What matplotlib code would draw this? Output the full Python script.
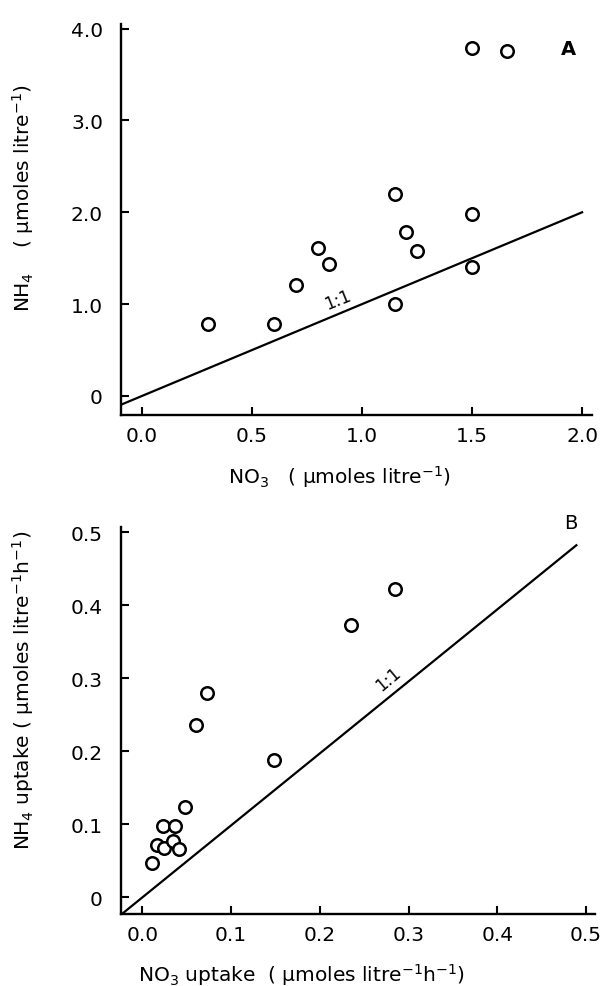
import matplotlib
matplotlib.use("Agg")
import matplotlib.pyplot as plt

# Panel A data: NO3 vs NH4 concentration (umoles litre^-1)
a_no3 = [0.30, 0.60, 0.70, 0.80, 0.85, 1.15, 1.15, 1.20, 1.25, 1.50, 1.50, 1.50, 1.66]
a_nh4 = [0.78, 0.78, 1.21, 1.61, 1.44, 1.00, 2.20, 1.79, 1.58, 1.98, 1.40, 3.79, 3.76]
a_xticks = [0.0, 0.5, 1.0, 1.5, 2.0]
a_xticklabels = ["0.0", "0.5", "1.0", "1.5", "2.0"]
a_yticks = [0, 1, 2, 3, 4]
a_yticklabels = ["0", "1.0", "2.0", "3.0", "4.0"]

# Panel B data: NO3 uptake vs NH4 uptake (umoles litre^-1 h^-1)
b_no3 = [0.011, 0.017, 0.023, 0.025, 0.035, 0.037, 0.041, 0.048, 0.061, 0.073, 0.148, 0.235, 0.285]
b_nh4 = [0.047, 0.072, 0.097, 0.067, 0.077, 0.097, 0.066, 0.124, 0.236, 0.279, 0.188, 0.373, 0.422]
b_xticks = [0.0, 0.1, 0.2, 0.3, 0.4, 0.5]
b_xticklabels = ["0.0", "0.1", "0.2", "0.3", "0.4", "0.5"]
b_yticks = [0, 0.1, 0.2, 0.3, 0.4, 0.5]
b_yticklabels = ["0", "0.1", "0.2", "0.3", "0.4", "0.5"]

W, H = 604, 987
fig = plt.figure(figsize=(W / 100, H / 100), dpi=100)
plt.rcParams['font.family'] = ['DejaVu Sans']

def style(ax):
    for s in ("top", "right"):
        ax.spines[s].set_visible(False)
    for s in ("left", "bottom"):
        ax.spines[s].set_linewidth(1.7)
    ax.tick_params(direction="in", length=6, width=1.5, labelsize=14.5)
    ax.tick_params(axis="y", pad=13)
    ax.tick_params(axis="x", pad=8)

def axes_px(l, r, t, b):
    return fig.add_axes([l / W, 1 - b / H, (r - l) / W, (b - t) / H])

# Panel A
axA = axes_px(121, 592, 25, 416)
style(axA)
axA.set_xlim(-0.095, 2.045)
axA.set_ylim(-0.207, 4.05)
axA.plot([-0.095, 2.0], [-0.095, 2.0], color="black", lw=1.6)
axA.plot(a_no3, a_nh4, "o", ms=9, mfc="white", mec="black", mew=1.8, clip_on=False)
axA.set_xticks(a_xticks)
axA.set_xticklabels(a_xticklabels)
axA.set_yticks(a_yticks)
axA.set_yticklabels(a_yticklabels)
axA.text(1.94, 3.78, "A", fontsize=14, fontweight="bold", ha="center", va="center")
axA.text(0.89, 1.05, "1:1", fontsize=12, rotation=22, ha="center", va="center")
fig.text(340 / W, 1 - 477 / H, "NO$_3$   ( μmoles litre$^{-1}$)", fontsize=14.5,
         ha="center", va="center")
fig.text(23 / W, 1 - 198 / H, "NH$_4$    ( μmoles litre$^{-1}$)", fontsize=14.5,
         ha="center", va="center", rotation=90)

# Panel B
axB = axes_px(121, 595, 528, 915)
style(axB)
axB.set_xlim(-0.024, 0.51)
axB.set_ylim(-0.023, 0.507)
axB.plot([-0.024, 0.489], [-0.024, 0.482], color="black", lw=1.6)
axB.plot(b_no3, b_nh4, "o", ms=9, mfc="white", mec="black", mew=1.8, clip_on=False)
axB.set_xticks(b_xticks)
axB.set_xticklabels(b_xticklabels)
axB.set_yticks(b_yticks)
axB.set_yticklabels(b_yticklabels)
axB.text(0.483, 0.513, "B", fontsize=14, ha="center", va="center", clip_on=False)
axB.text(0.277, 0.299, "1:1", fontsize=12, rotation=40, ha="center", va="center")
fig.text(302 / W, 1 - 975 / H, "NO$_3$ uptake  ( μmoles litre$^{-1}$h$^{-1}$)", fontsize=14.5,
         ha="center", va="center")
fig.text(23 / W, 1 - 690 / H, "NH$_4$ uptake ( μmoles litre$^{-1}$h$^{-1}$)", fontsize=14.5,
         ha="center", va="center", rotation=90)

fig.savefig("out.png", dpi=100)
